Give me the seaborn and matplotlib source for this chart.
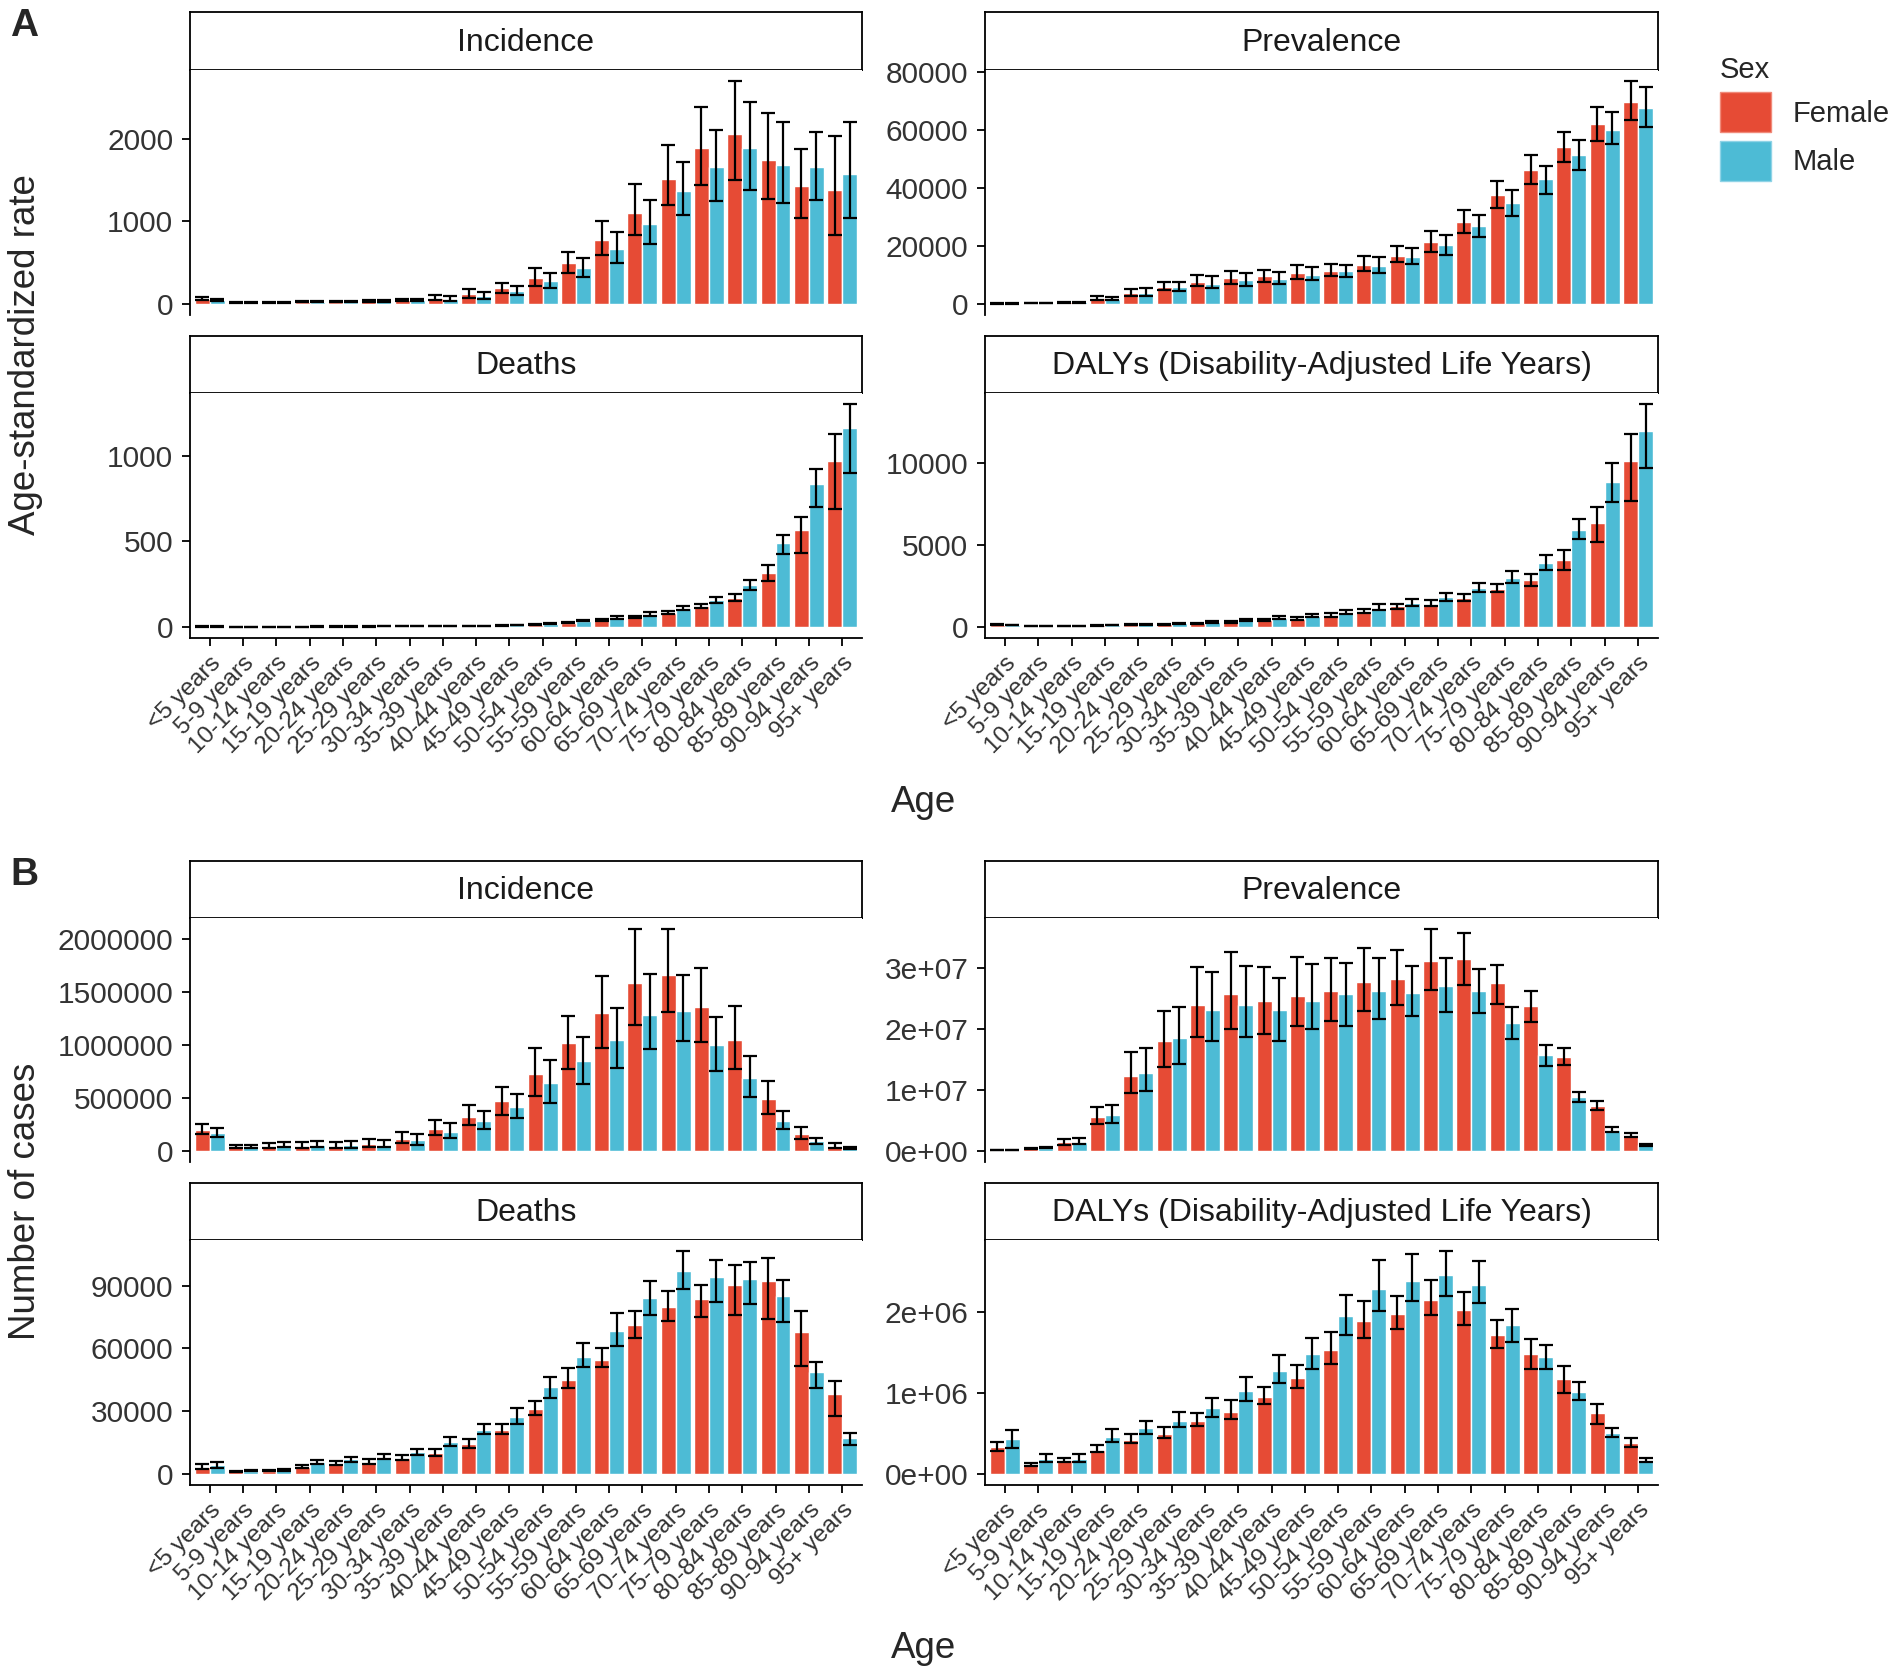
import pandas as pd
import seaborn as sns
import matplotlib.pyplot as plt
from matplotlib.patches import Patch
from matplotlib.ticker import FuncFormatter

# age groups and sexes
ages = ['<5 years', '5-9 years', '10-14 years', '15-19 years', '20-24 years',
        '25-29 years', '30-34 years', '35-39 years', '40-44 years', '45-49 years',
        '50-54 years', '55-59 years', '60-64 years', '65-69 years', '70-74 years',
        '75-79 years', '80-84 years', '85-89 years', '90-94 years', '95+ years']
sexes = ['Female', 'Male']
colors = {'Female': '#E64B35', 'Male': '#4DBBD5'}

# (value, lower, upper) per age group -- panel A, age-standardized rate
a_inc_female = [(60, 45, 80), (15, 10, 20), (18, 12, 25), (25, 18, 35), (28, 20, 38),
                (32, 22, 45), (45, 30, 60), (75, 45, 110), (120, 75, 175), (190, 130, 250),
                (315, 220, 430), (495, 370, 630), (780, 590, 1000), (1100, 830, 1450),
                (1510, 1200, 1920), (1890, 1440, 2390), (2060, 1500, 2700),
                (1750, 1270, 2310), (1430, 1040, 1880), (1385, 830, 2030)]
a_inc_male = [(50, 38, 65), (14, 10, 20), (18, 12, 25), (25, 18, 33), (25, 18, 35),
              (32, 22, 45), (45, 30, 60), (65, 40, 100), (100, 60, 145), (160, 110, 220),
              (275, 195, 380), (430, 330, 550), (670, 500, 870), (970, 720, 1260),
              (1365, 1080, 1720), (1665, 1250, 2110), (1890, 1380, 2450),
              (1680, 1220, 2200), (1660, 1260, 2080), (1580, 1040, 2210)]
a_prev_female = [(150, 100, 220), (250, 180, 350), (600, 450, 800), (1900, 1300, 2600),
                 (3800, 2800, 5200), (5800, 4700, 7600), (7500, 6200, 9800),
                 (8800, 7000, 11300), (9600, 7600, 11800), (10700, 8700, 13300),
                 (11400, 9500, 13900), (13400, 11200, 16500), (16600, 14500, 19800),
                 (21200, 18000, 25000), (28400, 24500, 32400), (37700, 33000, 42200),
                 (46200, 41300, 51200), (54000, 49000, 59200), (62000, 56000, 68000),
                 (69700, 63300, 76800)]
a_prev_male = [(100, 70, 150), (200, 150, 300), (550, 400, 750), (1700, 1200, 2400),
               (3800, 2800, 5300), (5800, 4600, 7500), (7000, 5600, 9500),
               (8100, 6300, 10500), (8700, 7000, 11000), (10000, 8300, 12700),
               (11200, 9300, 13500), (13100, 10800, 16000), (16200, 13700, 19200),
               (20400, 17000, 23800), (26800, 23200, 30700), (34800, 30300, 39200),
               (43000, 37900, 47400), (51200, 46000, 56400), (60100, 55000, 66000),
               (67500, 61000, 74800)]
a_death_female = [(3, 2, 4), (1, 0.7, 1.3), (1, 0.7, 1.3), (1.5, 1.1, 2), (2, 1.5, 2.6),
                  (2.2, 1.7, 2.8), (2.8, 2.2, 3.5), (3.5, 2.8, 4.3), (5, 4, 6),
                  (8, 6.5, 9.5), (13, 11, 15), (25, 21, 29), (40, 35, 46), (56, 50, 63),
                  (82, 74, 92), (122, 110, 135), (170, 150, 192), (314, 270, 362),
                  (565, 430, 640), (970, 690, 1125)]
a_death_male = [(2.5, 1.8, 3.3), (1, 0.7, 1.3), (1.2, 0.9, 1.5), (2, 1.5, 2.5),
                (2.4, 1.9, 3), (2.8, 2.2, 3.4), (3.5, 2.8, 4.2), (4.5, 3.7, 5.4),
                (6.5, 5.4, 7.8), (10, 8.5, 12), (19, 16, 22), (37, 32, 42), (55, 48, 62),
                (75, 66, 84), (108, 96, 120), (158, 140, 176), (245, 215, 275),
                (488, 425, 535), (835, 700, 920), (1158, 900, 1300)]
a_daly_female = [(120, 95, 150), (50, 40, 62), (50, 40, 62), (85, 70, 105), (130, 105, 160),
                 (170, 140, 205), (220, 185, 265), (300, 250, 355), (390, 330, 460),
                 (500, 420, 590), (720, 610, 840), (980, 850, 1120), (1250, 1100, 1420),
                 (1420, 1260, 1640), (1770, 1600, 2000), (2340, 2100, 2600),
                 (2850, 2500, 3250), (4070, 3500, 4700), (6330, 5200, 7300),
                 (10100, 7700, 11800)]
a_daly_male = [(110, 85, 140), (45, 36, 56), (55, 44, 68), (110, 90, 135), (160, 130, 195),
               (220, 180, 265), (300, 250, 360), (410, 340, 490), (540, 450, 640),
               (690, 580, 810), (900, 760, 1060), (1180, 1000, 1380), (1470, 1280, 1700),
               (1810, 1600, 2050), (2380, 2150, 2650), (3000, 2700, 3400),
               (3880, 3500, 4400), (5930, 5350, 6600), (8870, 7650, 10000),
               (11990, 9700, 13600)]

# panel B, number of cases
b_inc_female = [(200e3, 160e3, 250e3), (40e3, 28e3, 60e3), (42e3, 28e3, 70e3),
                (50e3, 30e3, 85e3), (50e3, 30e3, 85e3), (65e3, 38e3, 110e3),
                (110e3, 70e3, 175e3), (210e3, 150e3, 295e3), (320e3, 240e3, 430e3),
                (470e3, 340e3, 600e3), (725e3, 520e3, 970e3), (1013e3, 770e3, 1270e3),
                (1295e3, 970e3, 1650e3), (1585e3, 1190e3, 2090e3), (1655e3, 1310e3, 2090e3),
                (1360e3, 1030e3, 1720e3), (1048e3, 770e3, 1370e3), (490e3, 350e3, 655e3),
                (162e3, 110e3, 225e3), (50e3, 30e3, 75e3)]
b_inc_male = [(165e3, 130e3, 220e3), (38e3, 28e3, 55e3), (50e3, 33e3, 80e3),
              (58e3, 36e3, 95e3), (52e3, 30e3, 90e3), (58e3, 33e3, 100e3),
              (100e3, 60e3, 155e3), (180e3, 120e3, 260e3), (280e3, 210e3, 380e3),
              (415e3, 310e3, 540e3), (640e3, 450e3, 860e3), (845e3, 630e3, 1070e3),
              (1047e3, 780e3, 1350e3), (1278e3, 960e3, 1670e3), (1320e3, 1040e3, 1660e3),
              (995e3, 750e3, 1260e3), (688e3, 510e3, 890e3), (282e3, 210e3, 380e3),
              (92e3, 68e3, 125e3), (28e3, 20e3, 38e3)]
b_prev_female = [(0.1e6, 0.08e6, 0.13e6), (0.4e6, 0.32e6, 0.5e6), (1.4e6, 1.0e6, 2.0e6),
                 (5.6e6, 4.4e6, 7.2e6), (12.2e6, 9.5e6, 16.2e6), (18.0e6, 13.7e6, 22.9e6),
                 (23.8e6, 18.6e6, 30.1e6), (25.6e6, 20.0e6, 32.5e6), (24.5e6, 19.2e6, 30.1e6),
                 (25.3e6, 20.5e6, 31.7e6), (26.2e6, 21.2e6, 31.6e6), (27.6e6, 22.9e6, 33.2e6),
                 (28.1e6, 23.8e6, 32.9e6), (31.0e6, 26.4e6, 36.3e6), (31.4e6, 27.1e6, 35.7e6),
                 (27.4e6, 24.0e6, 30.5e6), (23.7e6, 21.1e6, 26.2e6), (15.3e6, 14.1e6, 16.9e6),
                 (7.4e6, 6.7e6, 8.2e6), (2.6e6, 2.3e6, 2.9e6)]
b_prev_male = [(0.15e6, 0.11e6, 0.19e6), (0.5e6, 0.4e6, 0.62e6), (1.5e6, 1.1e6, 2.1e6),
               (5.9e6, 4.6e6, 7.5e6), (12.8e6, 9.8e6, 16.9e6), (18.5e6, 14.2e6, 23.5e6),
               (23.0e6, 18.0e6, 29.2e6), (23.8e6, 18.7e6, 30.3e6), (23.0e6, 18.0e6, 28.3e6),
               (24.5e6, 20.0e6, 30.6e6), (25.6e6, 20.5e6, 30.8e6), (26.2e6, 21.6e6, 31.5e6),
               (25.8e6, 22.0e6, 30.2e6), (27.0e6, 22.8e6, 31.5e6), (26.1e6, 22.5e6, 29.8e6),
               (21.0e6, 18.3e6, 23.6e6), (15.7e6, 13.9e6, 17.4e6), (8.8e6, 8.0e6, 9.7e6),
               (3.5e6, 3.1e6, 3.9e6), (0.95e6, 0.8e6, 1.1e6)]
b_death_female = [(3500, 2500, 4500), (1200, 900, 1500), (1500, 1200, 1900),
                  (3500, 2800, 4300), (5000, 4000, 6200), (5500, 4500, 7000),
                  (7800, 6500, 9000), (10000, 8500, 12000), (14200, 12500, 16500),
                  (20800, 19000, 24000), (31000, 28000, 35000), (45000, 41000, 50500),
                  (54500, 51000, 60000), (71000, 65000, 78000), (80000, 73000, 87500),
                  (83500, 75000, 90500), (90500, 76000, 100000), (92000, 74000, 103000),
                  (68000, 51500, 78000), (38000, 27500, 44500)]
b_death_male = [(4000, 2800, 5500), (1500, 1200, 1900), (1800, 1400, 2200),
                (5500, 4500, 6800), (7000, 5800, 8300), (8200, 7000, 9700),
                (10500, 9000, 12000), (15200, 13500, 17500), (21000, 19000, 24000),
                (27200, 24000, 31500), (41500, 36500, 46500), (56000, 51000, 62500),
                (68500, 61000, 77000), (84000, 76000, 92000), (97000, 88500, 106500),
                (94000, 82000, 102500), (93000, 81000, 101500), (85000, 72500, 92500),
                (48500, 41000, 53500), (17000, 14000, 19500)]
b_daly_female = [(0.33e6, 0.28e6, 0.40e6), (0.12e6, 0.10e6, 0.14e6), (0.17e6, 0.15e6, 0.20e6),
                 (0.30e6, 0.27e6, 0.36e6), (0.42e6, 0.38e6, 0.49e6), (0.49e6, 0.44e6, 0.58e6),
                 (0.66e6, 0.59e6, 0.76e6), (0.77e6, 0.68e6, 0.92e6), (0.95e6, 0.86e6, 1.08e6),
                 (1.19e6, 1.07e6, 1.35e6), (1.53e6, 1.36e6, 1.76e6), (1.89e6, 1.68e6, 2.14e6),
                 (1.98e6, 1.79e6, 2.20e6), (2.16e6, 1.97e6, 2.40e6), (2.03e6, 1.84e6, 2.25e6),
                 (1.72e6, 1.56e6, 1.91e6), (1.48e6, 1.30e6, 1.67e6), (1.17e6, 1.00e6, 1.34e6),
                 (0.76e6, 0.62e6, 0.87e6), (0.38e6, 0.33e6, 0.45e6)]
b_daly_male = [(0.43e6, 0.32e6, 0.54e6), (0.19e6, 0.15e6, 0.25e6), (0.19e6, 0.15e6, 0.24e6),
               (0.46e6, 0.39e6, 0.56e6), (0.57e6, 0.49e6, 0.66e6), (0.66e6, 0.58e6, 0.77e6),
               (0.81e6, 0.70e6, 0.94e6), (1.03e6, 0.90e6, 1.20e6), (1.27e6, 1.12e6, 1.47e6),
               (1.48e6, 1.30e6, 1.68e6), (1.96e6, 1.72e6, 2.22e6), (2.29e6, 2.02e6, 2.65e6),
               (2.39e6, 2.14e6, 2.73e6), (2.46e6, 2.21e6, 2.76e6), (2.34e6, 2.12e6, 2.64e6),
               (1.85e6, 1.63e6, 2.04e6), (1.45e6, 1.30e6, 1.60e6), (1.02e6, 0.92e6, 1.14e6),
               (0.51e6, 0.46e6, 0.57e6), (0.17e6, 0.15e6, 0.20e6)]

# y tick positions per panel
a_inc_ticks = [0, 1000, 2000]
a_prev_ticks = [0, 20000, 40000, 60000, 80000]
a_death_ticks = [0, 500, 1000]
a_daly_ticks = [0, 5000, 10000]
b_inc_ticks = [0, 500000, 1000000, 1500000, 2000000]
b_prev_ticks = [0, 1e7, 2e7, 3e7]
b_death_ticks = [0, 30000, 60000, 90000]
b_daly_ticks = [0, 1e6, 2e6]

sns.set_theme(style='ticks')
plt.rcParams['font.family'] = ['Liberation Sans', 'DejaVu Sans']

W, H = 1902, 1677
fig = plt.figure(figsize=(W / 100, H / 100), dpi=100)

LW = 1.3
plain = FuncFormatter(lambda v, p: f'{v:.0f}')
sci = FuncFormatter(lambda v, p: f'{v:.0e}')


def px_axes(x0, y0, x1, y1):
    return fig.add_axes([x0 / W, 1 - y1 / H, (x1 - x0) / W, (y1 - y0) / H])


def panel(x0, x1, strip_top, plot_top, plot_bot, title, female, male, ticks, fmt, bottom_row):
    # strip box
    sax = px_axes(x0, strip_top, x1, plot_top)
    sax.set_xticks([])
    sax.set_yticks([])
    for s in sax.spines.values():
        s.set_visible(True)
        s.set_linewidth(LW)
        s.set_color('black')
    sax.text(0.5, 0.47, title, ha='center', va='center', fontsize=23,
             color='#1a1a1a', transform=sax.transAxes)

    ax = px_axes(x0, plot_top, x1, plot_bot)
    rows = []
    for sex, series in (('Female', female), ('Male', male)):
        for age, (v, lo, hi) in zip(ages, series):
            rows.append({'age': age, 'sex': sex, 'value': v, 'lo': lo, 'hi': hi})
    df = pd.DataFrame(rows)
    sns.barplot(data=df, x='age', y='value', hue='sex', order=ages, hue_order=sexes,
                palette=colors, width=0.9, saturation=1, errorbar=None, legend=False, ax=ax)
    for cont, sex in zip(ax.containers, sexes):
        sub = df[df['sex'] == sex]
        xs = [b.get_x() + b.get_width() / 2 for b in cont]
        ax.errorbar(xs, sub['value'], yerr=[sub['value'] - sub['lo'], sub['hi'] - sub['value']],
                    fmt='none', ecolor='black', elinewidth=1.6, capsize=5, capthick=1.6)

    top = df['hi'].max()
    ax.set_ylim(-0.05 * top, 1.05 * top)
    ax.set_xlim(-0.6, len(ages) - 0.4)
    ax.set_yticks(ticks)
    ax.yaxis.set_major_formatter(fmt)
    ax.set_xlabel('')
    ax.set_ylabel('')
    ax.spines['top'].set_visible(False)
    ax.spines['right'].set_visible(False)
    ax.spines['left'].set_linewidth(LW)
    ax.spines['left'].set_color('black')
    ax.tick_params(axis='y', labelsize=21.5, length=6, width=LW, color='black',
                   labelcolor='#333333', pad=6)
    if bottom_row:
        ax.spines['bottom'].set_linewidth(LW)
        ax.spines['bottom'].set_color('black')
        ax.tick_params(axis='x', length=6, width=LW, color='black', pad=4)
        ax.set_xticks(range(len(ages)))
        ax.set_xticklabels(ages, rotation=45, ha='right', va='top',
                           rotation_mode='anchor', fontsize=17.5, color='#333333')
    else:
        ax.spines['bottom'].set_visible(False)
        ax.tick_params(axis='x', bottom=False, labelbottom=False)
    return ax


LX = (190, 862)
RX = (985, 1658)

# block A
panel(*LX, 12, 70, 315, 'Incidence', a_inc_female, a_inc_male, a_inc_ticks, plain, False)
panel(*RX, 12, 70, 315, 'Prevalence', a_prev_female, a_prev_male, a_prev_ticks, plain, False)
panel(*LX, 336, 393, 638, 'Deaths', a_death_female, a_death_male, a_death_ticks, plain, True)
panel(*RX, 336, 393, 638, 'DALYs (Disability-Adjusted Life Years)', a_daly_female,
      a_daly_male, a_daly_ticks, plain, True)

# block B
panel(*LX, 861, 918, 1162, 'Incidence', b_inc_female, b_inc_male, b_inc_ticks, plain, False)
panel(*RX, 861, 918, 1162, 'Prevalence', b_prev_female, b_prev_male, b_prev_ticks, sci, False)
panel(*LX, 1183, 1240, 1485, 'Deaths', b_death_female, b_death_male, b_death_ticks, plain, True)
panel(*RX, 1183, 1240, 1485, 'DALYs (Disability-Adjusted Life Years)', b_daly_female,
      b_daly_male, b_daly_ticks, sci, True)

# axis titles and panel letters
fig.text(26 / W, 1 - 355 / H, 'Age-standardized rate', rotation=90, ha='center',
         va='center', fontsize=26.5)
fig.text(26 / W, 1 - 1201 / H, 'Number of cases', rotation=90, ha='center',
         va='center', fontsize=26.5)
fig.text(924 / W, 1 - 802 / H, 'Age', ha='center', va='center', fontsize=26.5)
fig.text(924 / W, 1 - 1649 / H, 'Age', ha='center', va='center', fontsize=26.5)
fig.text(10 / W, 1 - 8 / H, 'A', ha='left', va='top', fontsize=28, fontweight='bold')
fig.text(10 / W, 1 - 857 / H, 'B', ha='left', va='top', fontsize=28, fontweight='bold')

handles = [Patch(facecolor=colors[s], edgecolor='#f08a7a' if s == 'Female' else '#8fd3e6',
                 linewidth=1) for s in sexes]
fig.legend(handles, sexes, title='Sex', loc='upper left', bbox_to_anchor=(1720 / W, 1 - 56 / H),
           frameon=False, fontsize=21, title_fontsize=21, handlelength=1.75, handleheight=1.75,
           handletextpad=0.75, labelspacing=0.28, borderpad=0, borderaxespad=0,
           alignment='left')

fig.savefig('out.png', dpi=100)
